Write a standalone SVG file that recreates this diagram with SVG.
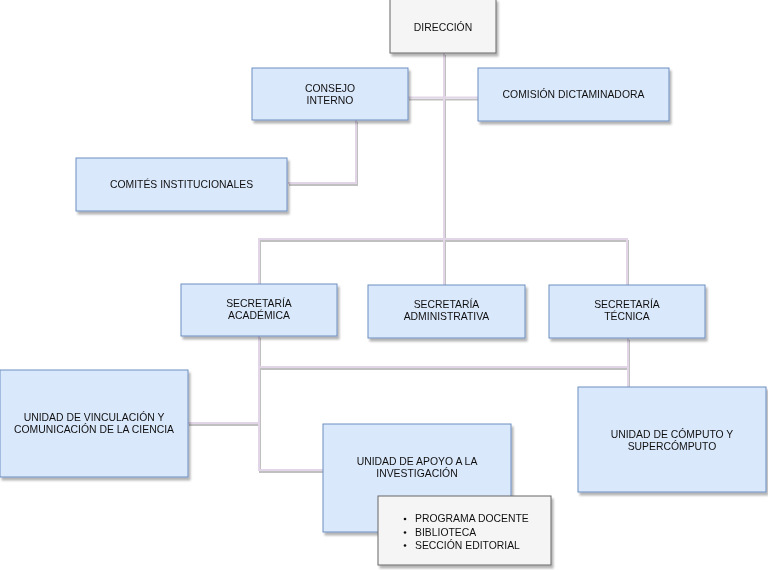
<svg xmlns="http://www.w3.org/2000/svg" width="768" height="570" viewBox="0 0 768 570">
<defs>
<filter id="sh" x="-10%" y="-10%" width="130%" height="140%">
<feGaussianBlur in="SourceAlpha" stdDeviation="0.8"/>
<feOffset dx="2" dy="2.5" result="o"/>
<feComponentTransfer><feFuncA type="linear" slope="0.3"/></feComponentTransfer>
<feMerge><feMergeNode/><feMergeNode in="SourceGraphic"/></feMerge>
</filter>
<filter id="shl" x="-10%" y="-10%" width="130%" height="140%">
<feGaussianBlur in="SourceAlpha" stdDeviation="0.5"/>
<feOffset dx="1" dy="1.5" result="o"/>
<feComponentTransfer><feFuncA type="linear" slope="0.25"/></feComponentTransfer>
<feMerge><feMergeNode/><feMergeNode in="SourceGraphic"/></feMerge>
</filter>
<style>
.b{fill:#dae8fc;stroke:#6c8ebf;stroke-width:1}
.g{fill:#f5f5f5;stroke:#666666;stroke-width:1}
.t{font-family:"Liberation Sans",Arial,Helvetica,sans-serif;font-size:10.4px;fill:#111;text-anchor:middle}
.l{font-family:"Liberation Sans",Arial,Helvetica,sans-serif;font-size:10.4px;fill:#111}
.c{fill:none;stroke:#e1d5e7;stroke-width:2}
</style>
</defs>
<rect width="768" height="570" fill="#ffffff"/>
<g id="connectors" filter="url(#shl)">
<path class="c" d="M444,53 V285"/>
<path class="c" d="M408,97.5 H478"/>
<path class="c" d="M356,120 V183 H288"/>
<path class="c" d="M259,284 V239 H627 V285"/>
<path class="c" d="M259,336 V470 H323"/>
<path class="c" d="M188,423 H259"/>
<path class="c" d="M259,367 H628"/>
<path class="c" d="M628,338 V387"/>
</g>
<g id="direccion" filter="url(#sh)">
<rect class="g" x="390" y="-1" width="106" height="54"/>
<text class="t" x="443" y="31">DIRECCIÓN</text>
</g>
<g id="consejo" filter="url(#sh)">
<rect class="b" x="252" y="68" width="156" height="52"/>
<text class="t" x="330" y="92">CONSEJO</text>
<text class="t" x="330" y="104">INTERNO</text>
</g>
<g id="comision" filter="url(#sh)">
<rect class="b" x="478" y="68" width="191" height="53"/>
<text class="t" x="573.5" y="98">COMISIÓN DICTAMINADORA</text>
</g>
<g id="comites" filter="url(#sh)">
<rect class="b" x="76" y="158" width="211" height="53"/>
<text class="t" x="181.5" y="188">COMITÉS INSTITUCIONALES</text>
</g>
<g id="sec-academica" filter="url(#sh)">
<rect class="b" x="181" y="284" width="156" height="52"/>
<text class="t" x="259" y="307">SECRETARÍA</text>
<text class="t" x="259" y="319">ACADÉMICA</text>
</g>
<g id="sec-administrativa" filter="url(#sh)">
<rect class="b" x="368" y="285" width="157" height="53"/>
<text class="t" x="446.5" y="308">SECRETARÍA</text>
<text class="t" x="446.5" y="320">ADMINISTRATIVA</text>
</g>
<g id="sec-tecnica" filter="url(#sh)">
<rect class="b" x="549" y="285" width="156" height="53"/>
<text class="t" x="627" y="308">SECRETARÍA</text>
<text class="t" x="627" y="320">TÉCNICA</text>
</g>
<g id="unidad-vinculacion" filter="url(#sh)">
<rect class="b" x="0" y="370" width="188" height="107"/>
<text class="t" x="94" y="421">UNIDAD DE VINCULACIÓN Y</text>
<text class="t" x="94" y="433">COMUNICACIÓN DE LA CIENCIA</text>
</g>
<g id="unidad-apoyo" filter="url(#sh)">
<rect class="b" x="323" y="424" width="188" height="108"/>
<text class="t" x="417" y="464.5">UNIDAD DE APOYO A LA</text>
<text class="t" x="417" y="476.5">INVESTIGACIÓN</text>
</g>
<g id="unidad-computo" filter="url(#sh)">
<rect class="b" x="578" y="387" width="188" height="105"/>
<text class="t" x="672" y="438">UNIDAD DE CÓMPUTO Y</text>
<text class="t" x="672" y="450">SUPERCÓMPUTO</text>
</g>
<g id="lista-apoyo" filter="url(#sh)">
<rect class="g" x="378" y="496" width="173" height="69"/>
<circle cx="405" cy="519" r="1.3" fill="#111"/>
<circle cx="405" cy="532.5" r="1.3" fill="#111"/>
<circle cx="405" cy="545.5" r="1.3" fill="#111"/>
<text class="l" x="415" y="522">PROGRAMA DOCENTE</text>
<text class="l" x="415" y="535.5">BIBLIOTECA</text>
<text class="l" x="415" y="548.5">SECCIÓN EDITORIAL</text>
</g>
</svg>
